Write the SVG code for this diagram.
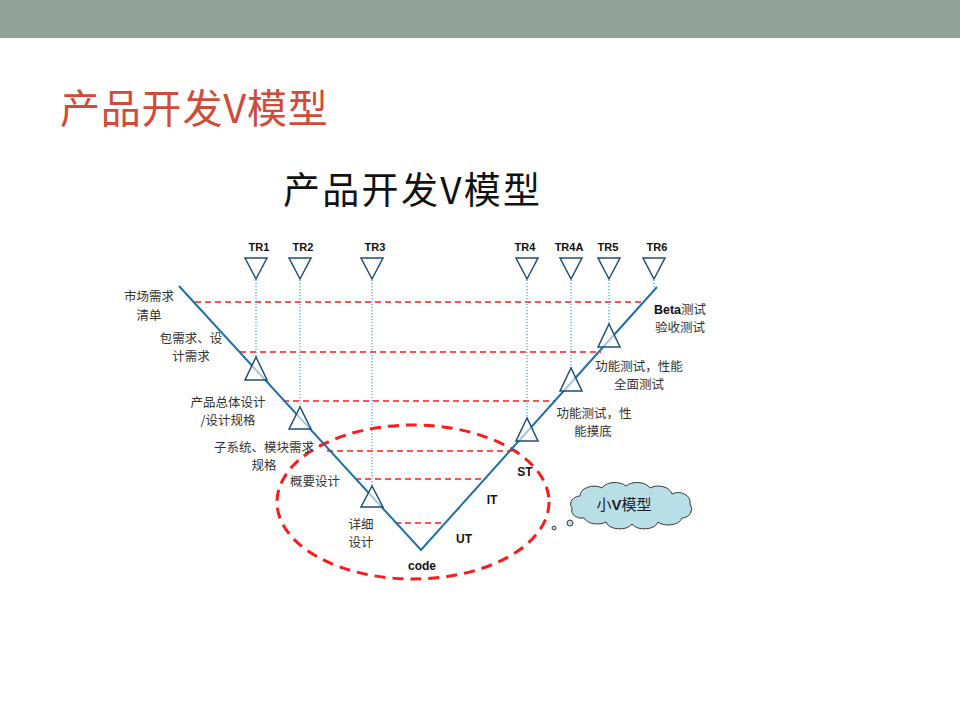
<svg xmlns="http://www.w3.org/2000/svg" width="960" height="720" viewBox="0 0 960 720">
<style>
.cjk{font-family:"Noto Sans CJK SC","Liberation Sans",sans-serif;}
.lbl{font-family:"Noto Sans CJK SC",sans-serif;font-size:12.5px;fill:#333;text-anchor:middle;}
.bold{font-family:"Liberation Sans","Noto Sans CJK SC",sans-serif;font-weight:bold;font-size:12px;fill:#111;text-anchor:middle;}
.tr{font-family:"Liberation Sans",sans-serif;font-weight:bold;font-size:11px;fill:#111;text-anchor:middle;}
.tri{fill:#fff;fill-opacity:0.6;stroke:#1f4e79;stroke-width:1.5;stroke-linejoin:miter;}
.dot{stroke:#4a9fd5;stroke-width:1.2;stroke-dasharray:1.2,1.8;fill:none;}
.red{stroke:#ff1a1a;stroke-width:1.5;stroke-dasharray:6,4;fill:none;}
.v{stroke:#1f6fa8;stroke-width:2;fill:none;}
</style>
<rect x="0" y="0" width="960" height="720" fill="#fff"/>
<rect x="0" y="0" width="960" height="38" fill="#93a299"/>
<text class="cjk" x="60" y="123" font-size="40" letter-spacing="0.8" fill="#d24b3a">产品开发V模型</text>
<text class="cjk" x="283" y="204" font-size="37" letter-spacing="2.3" fill="#111">产品开发V模型</text>

<g id="connectors">
  <ellipse cx="413" cy="502" rx="136" ry="77" fill="none" stroke="#ff1a1a" stroke-width="3" stroke-dasharray="11,7"/>
  <line class="red" x1="195" y1="302" x2="643" y2="302"/>
  <line class="red" x1="240" y1="352" x2="601" y2="352"/>
  <line class="red" x1="283" y1="401" x2="556" y2="401"/>
  <line class="red" x1="327" y1="451" x2="512" y2="451"/>
  <line class="red" x1="355" y1="479" x2="482" y2="479"/>
  <line class="red" x1="395" y1="523" x2="445" y2="523"/>
  <line class="dot" x1="256" y1="280" x2="256" y2="357"/>
  <line class="dot" x1="300" y1="280" x2="300" y2="407"/>
  <line class="dot" x1="372" y1="280" x2="372" y2="486"/>
  <line class="dot" x1="527" y1="280" x2="527" y2="418"/>
  <line class="dot" x1="571" y1="280" x2="571" y2="368"/>
  <line class="dot" x1="609" y1="280" x2="609" y2="324"/>
  <line class="dot" x1="654" y1="280" x2="654" y2="287"/>
  <polyline class="v" points="179,286 421,550 657,287"/>
</g>

<g id="tr1"><text class="tr" x="259" y="251">TR1</text><polygon class="tri" points="245,258 267,258 256,279"/><polygon class="tri" points="256,357 245,380 267,380"/></g>
<g id="tr2"><text class="tr" x="303" y="251">TR2</text><polygon class="tri" points="289,258 311,258 300,279"/><polygon class="tri" points="300,407 289,429 311,429"/></g>
<g id="tr3"><text class="tr" x="375" y="251">TR3</text><polygon class="tri" points="361,258 383,258 372,279"/><polygon class="tri" points="372,486 361,507 383,507"/></g>
<g id="tr4"><text class="tr" x="525" y="251">TR4</text><polygon class="tri" points="516,258 538,258 527,279"/><polygon class="tri" points="527,418 516,441 538,441"/></g>
<g id="tr4a"><text class="tr" x="569" y="251">TR4A</text><polygon class="tri" points="560,258 582,258 571,279"/><polygon class="tri" points="571,368 560,391 582,391"/></g>
<g id="tr5"><text class="tr" x="608" y="251">TR5</text><polygon class="tri" points="598,258 620,258 609,279"/><polygon class="tri" points="609,324 598,347 620,347"/></g>
<g id="tr6"><text class="tr" x="657" y="251">TR6</text><polygon class="tri" points="643,258 665,258 654,279"/></g>

<g id="labels-left">
  <text class="lbl" x="149" y="301">市场需求</text><text class="lbl" x="149" y="320">清单</text>
  <text class="lbl" x="191" y="343">包需求、设</text><text class="lbl" x="191" y="361">计需求</text>
  <text class="lbl" x="228" y="407">产品总体设计</text><text class="lbl" x="228" y="425">/设计规格</text>
  <text class="lbl" x="264" y="452">子系统、模块需求</text><text class="lbl" x="264" y="470">规格</text>
  <text class="lbl" x="315" y="486">概要设计</text>
  <text class="lbl" x="361" y="529">详细</text><text class="lbl" x="361" y="547">设计</text>
</g>
<g id="labels-right">
  <text class="lbl" x="680" y="314"><tspan font-family="Liberation Sans" font-weight="bold" fill="#111">Beta</tspan>测试</text><text class="lbl" x="680" y="332">验收测试</text>
  <text class="lbl" x="639" y="371">功能测试，性能</text><text class="lbl" x="639" y="389">全面测试</text>
  <text class="lbl" x="594" y="418">功能测试，性</text><text class="lbl" x="593" y="436">能摸底</text>
</g>
<g id="phases">
  <text class="bold" x="525" y="476">ST</text>
  <text class="bold" x="492" y="504">IT</text>
  <text class="bold" x="464" y="543">UT</text>
  <text class="bold" x="422" y="570">code</text>
</g>
<g id="cloud">
  <path d="M572,508 a10,8 0 0 1 8,-12 a14,10 0 0 1 22,-8 a14,9 0 0 1 24,-2 a14,9 0 0 1 24,2 a14,10 0 0 1 22,6 a12,10 0 0 1 18,10 a10,9 0 0 1 -8,14 a14,9 0 0 1 -24,4 a14,9 0 0 1 -26,2 a14,9 0 0 1 -26,-2 a14,9 0 0 1 -22,-4 a10,8 0 0 1 -12,-10 Z" fill="#b8dee6" stroke="#3a3a3a" stroke-width="1"/>
  <circle cx="570" cy="523" r="3" fill="#b8dee6" stroke="#3a3a3a" stroke-width="1"/>
  <circle cx="554" cy="528" r="2" fill="#b8dee6" stroke="#3a3a3a" stroke-width="1"/>
  <text x="624" y="510" font-size="15" fill="#222" text-anchor="middle" class="cjk">小<tspan font-family="Liberation Sans" font-weight="bold">V</tspan>模型</text>
</g>
</svg>
